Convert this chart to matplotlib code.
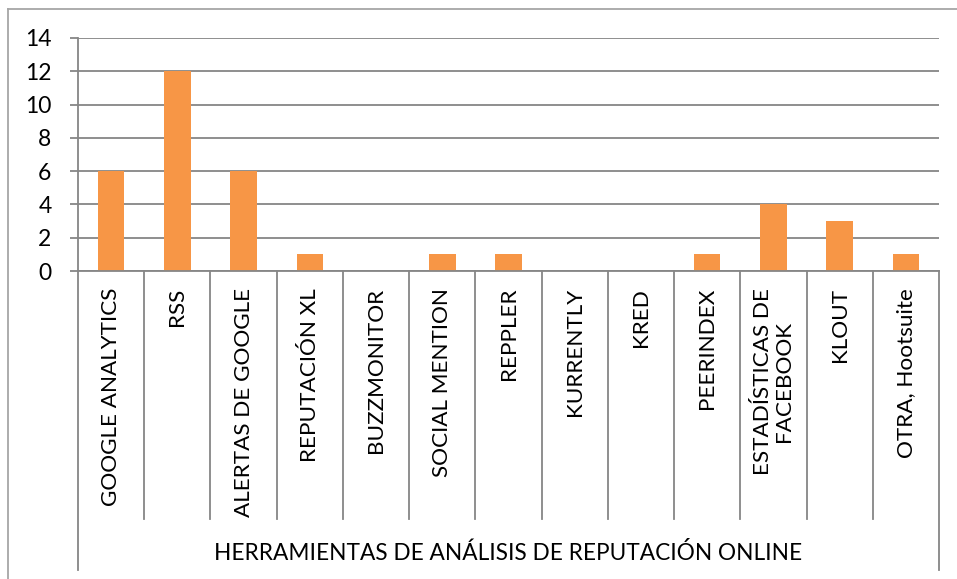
import matplotlib
matplotlib.use("Agg")
import matplotlib.pyplot as plt
from matplotlib.lines import Line2D

categories = ["GOOGLE ANALYTICS", "RSS", "ALERTAS DE GOOGLE", "REPUTACIÓN XL",
              "BUZZMONITOR", "SOCIAL MENTION", "REPPLER", "KURRENTLY", "KRED",
              "PEERINDEX", "ESTADÍSTICAS DE\nFACEBOOK", "KLOUT", "OTRA, Hootsuite"]
values = [6, 12, 6, 1, 0, 1, 1, 0, 0, 1, 4, 3, 1]
group_label = "HERRAMIENTAS DE ANÁLISIS DE REPUTACIÓN ONLINE"
yticks = [0, 2, 4, 6, 8, 10, 12, 14]

plt.rcParams['font.family'] = ['Lato', 'DejaVu Sans']

W, H = 957, 579
fig = plt.figure(figsize=(W / 100, H / 100), dpi=100)
left, right, top, bottom = 78, 939, 38, 271
ax = fig.add_axes([left / W, 1 - bottom / H, (right - left) / W, (bottom - top) / H])

grid_c = "#868686"
bar_c = "#F79646"

n = len(categories)
x = list(range(n))
ax.bar(x, values, width=0.4, color=bar_c, zorder=3)
ax.set_xlim(-0.5, n - 0.5)
ax.set_ylim(0, 14)
ax.set_yticks(yticks)
ax.set_yticklabels([str(t) for t in yticks], fontsize=16.5)
ax.yaxis.grid(True, color=grid_c, linewidth=1.3, zorder=0)
ax.set_axisbelow(True)
ax.tick_params(axis='y', length=6, width=1.3, color=grid_c, pad=13)
ax.set_xticks([])
for s in ["top", "right", "left", "bottom"]:
    ax.spines[s].set_visible(False)

ah = bottom - top
tr = ax.get_xaxis_transform()
# x axis line
ax.add_line(Line2D([-0.5, n - 0.5], [0, 0], transform=tr, color=grid_c, lw=1.3, clip_on=False, zorder=4))
# y axis line, extended down through label area
ax.add_line(Line2D([-0.5, -0.5], [1, (bottom - 570) / ah], transform=tr, color=grid_c, lw=1.3, clip_on=False))
ax.add_line(Line2D([n - 0.5, n - 0.5], [0, (bottom - 570) / ah], transform=tr, color=grid_c, lw=1.3, clip_on=False))
for i in range(1, n):
    ax.add_line(Line2D([i - 0.5, i - 0.5], [0, (bottom - 519) / ah], transform=tr, color=grid_c, lw=1.3, clip_on=False))

for i, c in enumerate(categories):
    ax.text(i, (bottom - 288) / ah, c, rotation=90, ha='center', va='top',
            multialignment='center', transform=tr, fontsize=16.2, linespacing=1.05)

ax.text((n - 1) / 2, (bottom - 553) / ah, group_label, ha='center', va='center',
        transform=tr, fontsize=16.3)

# outer chart frame (top and left visible)
fc = "#A6A6A6"
fig.add_artist(Line2D([8 / W, 1], [1 - 9 / H, 1 - 9 / H], transform=fig.transFigure, color=fc, lw=1.3))
fig.add_artist(Line2D([8 / W, 8 / W], [1 - 9 / H, 0], transform=fig.transFigure, color=fc, lw=1.3))

fig.savefig("out.png", dpi=100)
